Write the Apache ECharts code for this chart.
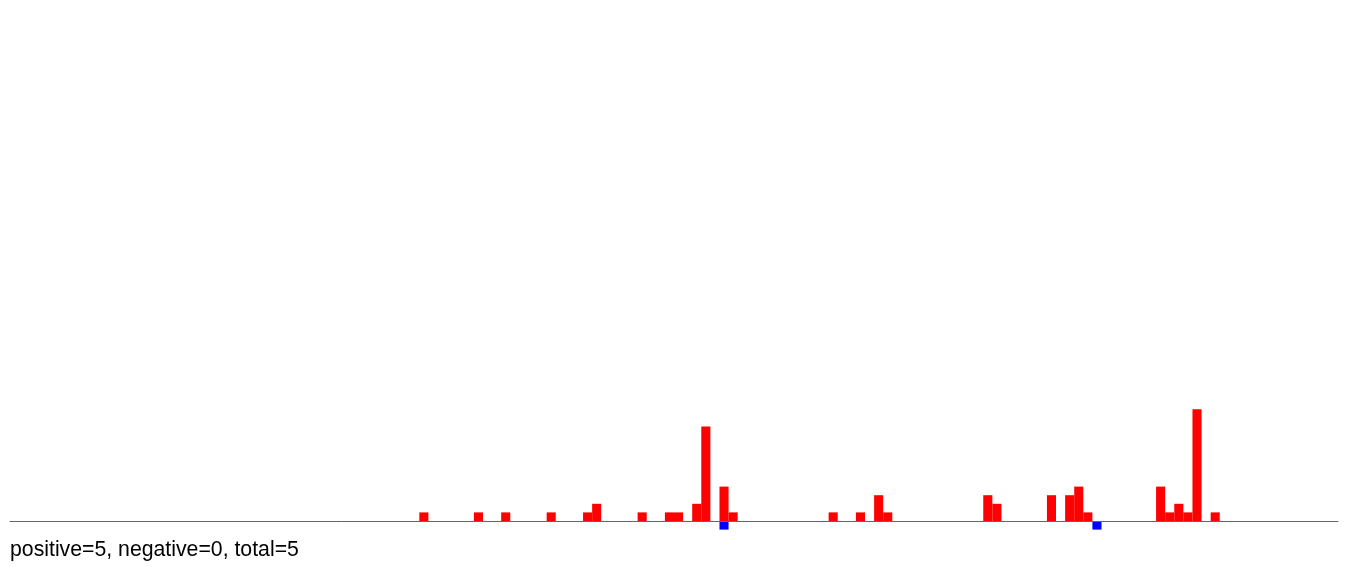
<!DOCTYPE html>
<html>
<head>
<meta charset="utf-8">
<script src="https://cdn.jsdelivr.net/npm/echarts@6/dist/echarts.min.js"></script>
<style>
html,body{margin:0;padding:0;background:#fff;}
#chart{width:1350px;height:567px;}
</style>
</head>
<body>
<div id="chart"></div>
<script>
var categories = Array.from({length: 146}, function (_, i) { return String(i); });
var positiveValues = [
  0,0,0,0,0,0,0,0,0,0,
  0,0,0,0,0,0,0,0,0,0,
  0,0,0,0,0,0,0,0,0,0,
  0,0,0,0,0,0,0,0,0,0,
  0,0,0,0,0,1,0,0,0,0,
  0,1,0,0,1,0,0,0,0,1,
  0,0,0,1,2,0,0,0,0,1,
  0,0,1,1,0,2,11,0,4,1,
  0,0,0,0,0,0,0,0,0,0,
  1,0,0,1,0,3,1,0,0,0,
  0,0,0,0,0,0,0,3,2,0,
  0,0,0,0,3,0,3,4,1,0,
  0,0,0,0,0,0,4,1,2,1,
  13,0,1,0,0,0,0,0,0,0,
  0,0,0,0,0,0
];
var negativeValues = [
  0,0,0,0,0,0,0,0,0,0,
  0,0,0,0,0,0,0,0,0,0,
  0,0,0,0,0,0,0,0,0,0,
  0,0,0,0,0,0,0,0,0,0,
  0,0,0,0,0,0,0,0,0,0,
  0,0,0,0,0,0,0,0,0,0,
  0,0,0,0,0,0,0,0,0,0,
  0,0,0,0,0,0,0,0,-1,0,
  0,0,0,0,0,0,0,0,0,0,
  0,0,0,0,0,0,0,0,0,0,
  0,0,0,0,0,0,0,0,0,0,
  0,0,0,0,0,0,0,0,0,-1,
  0,0,0,0,0,0,0,0,0,0,
  0,0,0,0,0,0,0,0,0,0,
  0,0,0,0,0,0
];
var summaryText = 'positive=5, negative=0, total=5';

var chart = echarts.init(document.getElementById('chart'), null, {renderer: 'canvas'});
chart.setOption({
  animation: false,
  backgroundColor: '#ffffff',
  grid: {left: 10, right: 12, top: 5, height: 533.2},
  xAxis: {
    type: 'category',
    data: categories,
    axisLine: {show: true, onZero: true, lineStyle: {color: '#666666', width: 1}},
    axisTick: {show: false},
    axisLabel: {show: false},
    splitLine: {show: false},
    z: 5
  },
  yAxis: {
    type: 'value',
    min: -2,
    max: 60,
    show: false,
    splitLine: {show: false}
  },
  series: [
    {
      name: 'positive',
      type: 'bar',
      stack: 'all',
      data: positiveValues,
      barCategoryGap: '0%',
      itemStyle: {color: '#ff0000'}
    },
    {
      name: 'negative',
      type: 'bar',
      stack: 'all',
      data: negativeValues,
      barCategoryGap: '0%',
      itemStyle: {color: '#0000ff'}
    }
  ],
  graphic: [{
    type: 'text',
    left: 10,
    top: 540,
    style: {
      text: summaryText,
      fill: '#000000',
      font: '21.25px "Liberation Sans", Arial, sans-serif'
    }
  }]
});
</script>
</body>
</html>
